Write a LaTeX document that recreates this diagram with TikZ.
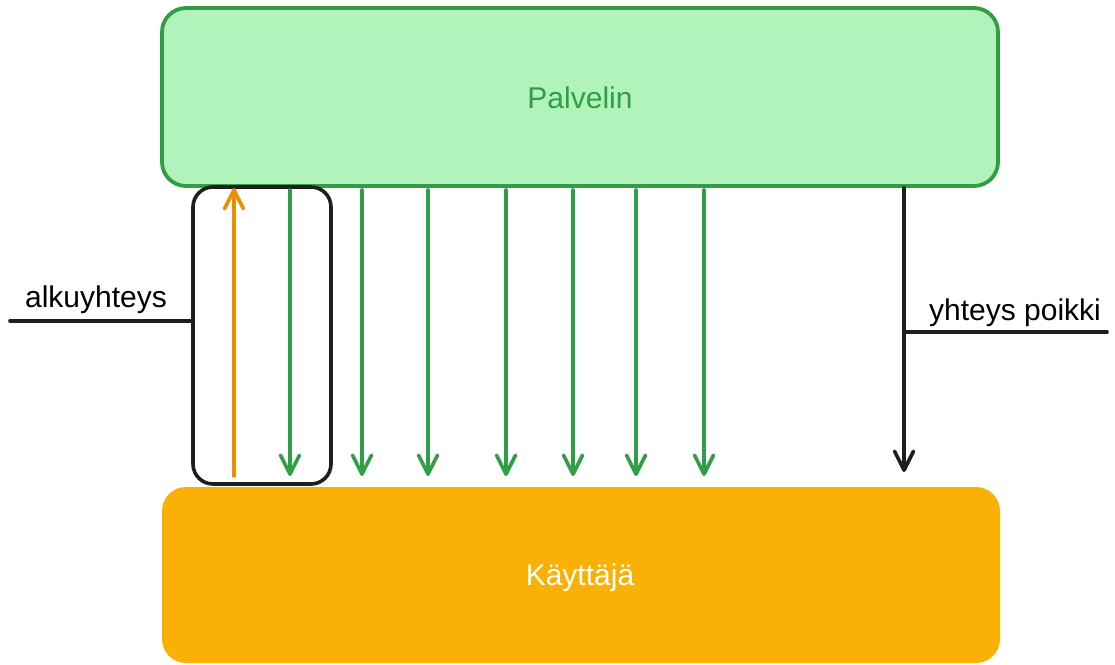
\documentclass[tikz,border=0pt]{standalone}
\usepackage{fontspec}
\setmainfont{Liberation Sans}
\usetikzlibrary{arrows.meta}
\definecolor{gstroke}{HTML}{2F9E44}
\definecolor{gfill}{HTML}{B2F2BB}
\definecolor{ofill}{HTML}{FAB005}
\definecolor{oarrow}{HTML}{F08C00}
\definecolor{ink}{HTML}{1E1E1E}
\tikzset{
  lbl/.style={font=\fontsize{30}{36}\selectfont, inner sep=0pt},
  barb/.style={-{Straight Barb[length=19pt,width=19pt,line cap=round,line join=round]}, line width=3.6pt, line cap=round},
  garrow/.style={barb, draw=gstroke},
  oarr/.style={barb, draw=oarrow},
  karrow/.style={barb, draw=ink},
  pointer/.style={draw=ink, line width=3.6pt, line cap=round},
}
\begin{document}
\begin{tikzpicture}[x=1pt,y=-1pt]
\useasboundingbox (0,0) rectangle (1115,664);
% Palvelin
\node[draw=gstroke, fill=gfill, line width=3.8pt, rounded corners=24pt,
      minimum width=836pt, minimum height=178pt, inner sep=0pt] (palvelin) at (580,97) {};
\node[lbl, text=gstroke] (ptext) at (580,98) {Palvelin};
% Kayttaja
\node[fill=ofill, rounded corners=24pt,
      minimum width=838pt, minimum height=176pt, inner sep=0pt] (kayttaja) at (581,575) {};
\node[lbl, text=white] (ktext) at (580,578) {Käyttäjä};
% frame
\node[draw=ink, line width=3.6pt, rounded corners=20pt,
      minimum width=138pt, minimum height=297pt, inner sep=0pt] (frame) at (262,335.5) {};
% initial connection arrows
\coordinate (oend) at (234,188);
\draw[oarr] (234,476) -- (oend);
\foreach \x [count=\i] in {290,362,428,506,573,636,704}{
  \coordinate (g\i) at (\x,476);
  \draw[garrow] (g\i |- 0,190) -- (g\i);
}
% broken connection
\coordinate (cut) at (904,472);
\draw[karrow] (cut |- palvelin.south) -- (cut);
% labels
\coordinate (alk) at (10,321);
\draw[pointer] (alk) -- (alk -| frame.west);
\node[lbl, anchor=base] (alktext) at (96,307) {alkuyhteys};
\coordinate (yp) at (1107,332);
\draw[pointer] (yp -| cut) -- (yp);
\node[lbl, anchor=base] (yptext) at (1015,320) {yhteys poikki};
\end{tikzpicture}
\end{document}
